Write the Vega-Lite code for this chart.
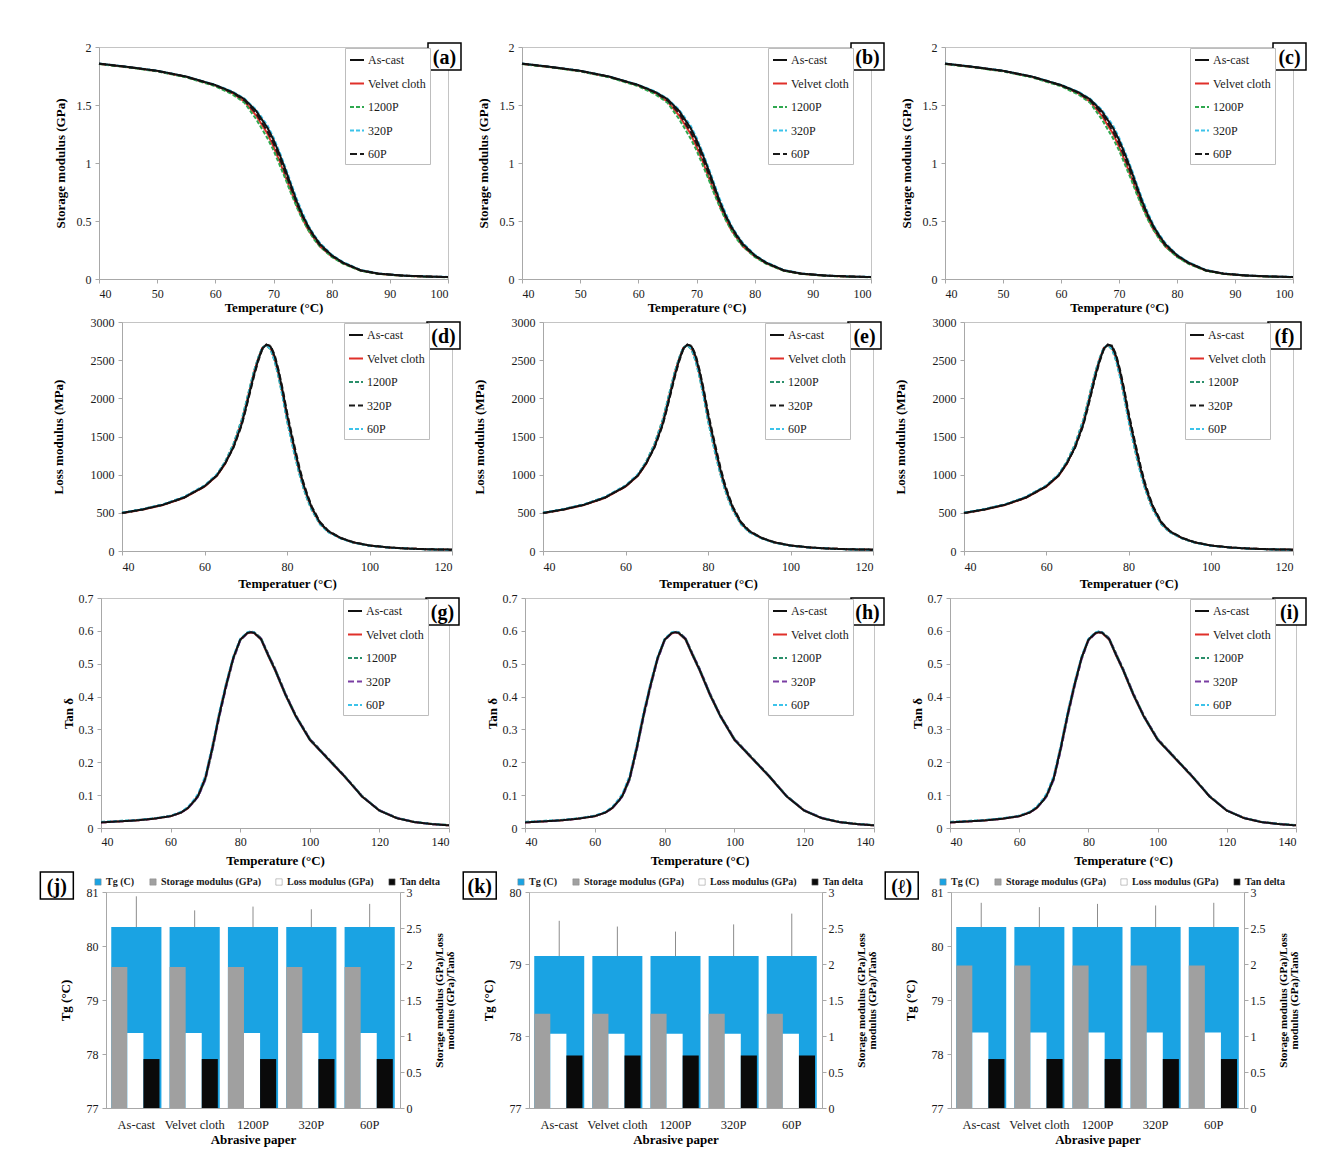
{
"$schema": "https://vega.github.io/schema/vega-lite/v6.json",
"padding": {"left": 20, "top": 39, "right": 5, "bottom": 5},
"background": "white",
"config": {
 "font": "Liberation Serif",
 "view": {"stroke": "#c4c4c4", "strokeWidth": 1},
 "axis": {"grid": false, "labelFont": "Liberation Serif", "labelFontSize": 12, "labelColor": "#1a1a1a", "titleFont": "Liberation Serif", "titleFontSize": 13, "titleFontWeight": "bold", "titleColor": "#000000", "domainColor": "#a8a8a8", "tickColor": "#a8a8a8", "tickSize": 4, "labelPadding": 4, "labelOverlap": false},
 "legend": {"fillColor": "#ffffff", "strokeColor": "#bdbdbd", "padding": 4, "labelFont": "Liberation Serif", "labelFontSize": 12, "labelColor": "#1a1a1a", "rowPadding": 9.5, "symbolStrokeWidth": 2, "symbolSize": 196, "labelOffset": 3},
 "text": {"font": "Liberation Serif"}
},
"datasets": {
 "sm": [
  {"s":"Velvet cloth","T":40,"v":1.855},{"s":"Velvet cloth","T":45,"v":1.826},{"s":"Velvet cloth","T":50,"v":1.793},{"s":"Velvet cloth","T":55,"v":1.742},{"s":"Velvet cloth","T":60,"v":1.668},{"s":"Velvet cloth","T":63,"v":1.6},{"s":"Velvet cloth","T":65,"v":1.53},{"s":"Velvet cloth","T":67,"v":1.41},{"s":"Velvet cloth","T":69,"v":1.25},{"s":"Velvet cloth","T":70,"v":1.14},{"s":"Velvet cloth","T":71,"v":1.02},{"s":"Velvet cloth","T":72,"v":0.89},{"s":"Velvet cloth","T":73,"v":0.76},{"s":"Velvet cloth","T":74,"v":0.63},{"s":"Velvet cloth","T":75,"v":0.52},{"s":"Velvet cloth","T":76,"v":0.42},{"s":"Velvet cloth","T":77,"v":0.35},{"s":"Velvet cloth","T":78,"v":0.28},{"s":"Velvet cloth","T":80,"v":0.195},{"s":"Velvet cloth","T":82,"v":0.135},{"s":"Velvet cloth","T":85,"v":0.072},{"s":"Velvet cloth","T":88,"v":0.045},{"s":"Velvet cloth","T":92,"v":0.029},{"s":"Velvet cloth","T":96,"v":0.021},{"s":"Velvet cloth","T":100,"v":0.016},
  {"s":"1200P","T":40,"v":1.853},{"s":"1200P","T":45,"v":1.824},{"s":"1200P","T":50,"v":1.79},{"s":"1200P","T":55,"v":1.738},{"s":"1200P","T":60,"v":1.662},{"s":"1200P","T":63,"v":1.59},{"s":"1200P","T":65,"v":1.52},{"s":"1200P","T":67,"v":1.38},{"s":"1200P","T":69,"v":1.21},{"s":"1200P","T":70,"v":1.11},{"s":"1200P","T":71,"v":0.99},{"s":"1200P","T":72,"v":0.87},{"s":"1200P","T":73,"v":0.74},{"s":"1200P","T":74,"v":0.62},{"s":"1200P","T":75,"v":0.51},{"s":"1200P","T":76,"v":0.42},{"s":"1200P","T":77,"v":0.34},{"s":"1200P","T":78,"v":0.28},{"s":"1200P","T":80,"v":0.19},{"s":"1200P","T":82,"v":0.13},{"s":"1200P","T":85,"v":0.07},{"s":"1200P","T":88,"v":0.044},{"s":"1200P","T":92,"v":0.028},{"s":"1200P","T":96,"v":0.02},{"s":"1200P","T":100,"v":0.015},
  {"s":"320P","T":40,"v":1.858},{"s":"320P","T":45,"v":1.829},{"s":"320P","T":50,"v":1.796},{"s":"320P","T":55,"v":1.746},{"s":"320P","T":60,"v":1.674},{"s":"320P","T":63,"v":1.615},{"s":"320P","T":65,"v":1.555},{"s":"320P","T":67,"v":1.46},{"s":"320P","T":69,"v":1.32},{"s":"320P","T":70,"v":1.22},{"s":"320P","T":71,"v":1.1},{"s":"320P","T":72,"v":0.97},{"s":"320P","T":73,"v":0.83},{"s":"320P","T":74,"v":0.69},{"s":"320P","T":75,"v":0.57},{"s":"320P","T":76,"v":0.46},{"s":"320P","T":77,"v":0.38},{"s":"320P","T":78,"v":0.31},{"s":"320P","T":80,"v":0.21},{"s":"320P","T":82,"v":0.145},{"s":"320P","T":85,"v":0.078},{"s":"320P","T":88,"v":0.048},{"s":"320P","T":92,"v":0.031},{"s":"320P","T":96,"v":0.023},{"s":"320P","T":100,"v":0.018},
  {"s":"60P","T":40,"v":1.856},{"s":"60P","T":45,"v":1.827},{"s":"60P","T":50,"v":1.794},{"s":"60P","T":55,"v":1.744},{"s":"60P","T":60,"v":1.67},{"s":"60P","T":63,"v":1.605},{"s":"60P","T":65,"v":1.54},{"s":"60P","T":67,"v":1.43},{"s":"60P","T":69,"v":1.27},{"s":"60P","T":70,"v":1.17},{"s":"60P","T":71,"v":1.05},{"s":"60P","T":72,"v":0.92},{"s":"60P","T":73,"v":0.79},{"s":"60P","T":74,"v":0.65},{"s":"60P","T":75,"v":0.54},{"s":"60P","T":76,"v":0.44},{"s":"60P","T":77,"v":0.36},{"s":"60P","T":78,"v":0.29},{"s":"60P","T":80,"v":0.2},{"s":"60P","T":82,"v":0.138},{"s":"60P","T":85,"v":0.074},{"s":"60P","T":88,"v":0.046},{"s":"60P","T":92,"v":0.03},{"s":"60P","T":96,"v":0.022},{"s":"60P","T":100,"v":0.017},
  {"s":"As-cast","T":40,"v":1.857},{"s":"As-cast","T":45,"v":1.828},{"s":"As-cast","T":50,"v":1.795},{"s":"As-cast","T":55,"v":1.745},{"s":"As-cast","T":60,"v":1.672},{"s":"As-cast","T":63,"v":1.61},{"s":"As-cast","T":65,"v":1.55},{"s":"As-cast","T":67,"v":1.45},{"s":"As-cast","T":69,"v":1.3},{"s":"As-cast","T":70,"v":1.2},{"s":"As-cast","T":71,"v":1.08},{"s":"As-cast","T":72,"v":0.95},{"s":"As-cast","T":73,"v":0.81},{"s":"As-cast","T":74,"v":0.67},{"s":"As-cast","T":75,"v":0.55},{"s":"As-cast","T":76,"v":0.45},{"s":"As-cast","T":77,"v":0.37},{"s":"As-cast","T":78,"v":0.3},{"s":"As-cast","T":80,"v":0.205},{"s":"As-cast","T":82,"v":0.14},{"s":"As-cast","T":85,"v":0.075},{"s":"As-cast","T":88,"v":0.047},{"s":"As-cast","T":92,"v":0.03},{"s":"As-cast","T":96,"v":0.022},{"s":"As-cast","T":100,"v":0.017}
 ],
 "lm": [
  {"s":"Velvet cloth","T":40,"v":495},{"s":"Velvet cloth","T":45,"v":542},{"s":"Velvet cloth","T":50,"v":603},{"s":"Velvet cloth","T":55,"v":695},{"s":"Velvet cloth","T":60,"v":842},{"s":"Velvet cloth","T":63,"v":985},{"s":"Velvet cloth","T":65,"v":1140},{"s":"Velvet cloth","T":67,"v":1370},{"s":"Velvet cloth","T":69,"v":1690},{"s":"Velvet cloth","T":70,"v":1900},{"s":"Velvet cloth","T":71,"v":2120},{"s":"Velvet cloth","T":72,"v":2340},{"s":"Velvet cloth","T":73,"v":2520},{"s":"Velvet cloth","T":74,"v":2660},{"s":"Velvet cloth","T":75,"v":2700},{"s":"Velvet cloth","T":76,"v":2660},{"s":"Velvet cloth","T":77,"v":2520},{"s":"Velvet cloth","T":78,"v":2300},{"s":"Velvet cloth","T":79,"v":2040},{"s":"Velvet cloth","T":80,"v":1750},{"s":"Velvet cloth","T":81,"v":1500},{"s":"Velvet cloth","T":82,"v":1260},{"s":"Velvet cloth","T":83,"v":1040},{"s":"Velvet cloth","T":84,"v":850},{"s":"Velvet cloth","T":85,"v":690},{"s":"Velvet cloth","T":86,"v":555},{"s":"Velvet cloth","T":88,"v":360},{"s":"Velvet cloth","T":90,"v":255},{"s":"Velvet cloth","T":93,"v":168},{"s":"Velvet cloth","T":96,"v":113},{"s":"Velvet cloth","T":100,"v":71},{"s":"Velvet cloth","T":105,"v":44},{"s":"Velvet cloth","T":110,"v":30},{"s":"Velvet cloth","T":115,"v":22},{"s":"Velvet cloth","T":120,"v":17},
  {"s":"1200P","T":40,"v":500},{"s":"1200P","T":45,"v":548},{"s":"1200P","T":50,"v":610},{"s":"1200P","T":55,"v":705},{"s":"1200P","T":60,"v":855},{"s":"1200P","T":63,"v":1000},{"s":"1200P","T":65,"v":1170},{"s":"1200P","T":67,"v":1400},{"s":"1200P","T":69,"v":1720},{"s":"1200P","T":70,"v":1930},{"s":"1200P","T":71,"v":2150},{"s":"1200P","T":72,"v":2360},{"s":"1200P","T":73,"v":2530},{"s":"1200P","T":74,"v":2665},{"s":"1200P","T":75,"v":2695},{"s":"1200P","T":76,"v":2640},{"s":"1200P","T":77,"v":2490},{"s":"1200P","T":78,"v":2270},{"s":"1200P","T":79,"v":2000},{"s":"1200P","T":80,"v":1710},{"s":"1200P","T":81,"v":1460},{"s":"1200P","T":82,"v":1220},{"s":"1200P","T":83,"v":1010},{"s":"1200P","T":84,"v":820},{"s":"1200P","T":85,"v":665},{"s":"1200P","T":86,"v":535},{"s":"1200P","T":88,"v":350},{"s":"1200P","T":90,"v":248},{"s":"1200P","T":93,"v":165},{"s":"1200P","T":96,"v":111},{"s":"1200P","T":100,"v":70},{"s":"1200P","T":105,"v":44},{"s":"1200P","T":110,"v":29},{"s":"1200P","T":115,"v":21},{"s":"1200P","T":120,"v":16},
  {"s":"320P","T":40,"v":497},{"s":"320P","T":45,"v":544},{"s":"320P","T":50,"v":605},{"s":"320P","T":55,"v":698},{"s":"320P","T":60,"v":845},{"s":"320P","T":63,"v":988},{"s":"320P","T":65,"v":1145},{"s":"320P","T":67,"v":1350},{"s":"320P","T":69,"v":1645},{"s":"320P","T":70,"v":1850},{"s":"320P","T":71,"v":2070},{"s":"320P","T":72,"v":2290},{"s":"320P","T":73,"v":2485},{"s":"320P","T":74,"v":2640},{"s":"320P","T":75,"v":2700},{"s":"320P","T":76,"v":2690},{"s":"320P","T":77,"v":2570},{"s":"320P","T":78,"v":2360},{"s":"320P","T":79,"v":2110},{"s":"320P","T":80,"v":1820},{"s":"320P","T":81,"v":1570},{"s":"320P","T":82,"v":1330},{"s":"320P","T":83,"v":1100},{"s":"320P","T":84,"v":895},{"s":"320P","T":85,"v":730},{"s":"320P","T":86,"v":585},{"s":"320P","T":88,"v":380},{"s":"320P","T":90,"v":265},{"s":"320P","T":93,"v":173},{"s":"320P","T":96,"v":117},{"s":"320P","T":100,"v":73},{"s":"320P","T":105,"v":46},{"s":"320P","T":110,"v":31},{"s":"320P","T":115,"v":22},{"s":"320P","T":120,"v":17},
  {"s":"60P","T":40,"v":502},{"s":"60P","T":45,"v":550},{"s":"60P","T":50,"v":612},{"s":"60P","T":55,"v":708},{"s":"60P","T":60,"v":858},{"s":"60P","T":63,"v":1005},{"s":"60P","T":65,"v":1165},{"s":"60P","T":67,"v":1385},{"s":"60P","T":69,"v":1700},{"s":"60P","T":70,"v":1910},{"s":"60P","T":71,"v":2130},{"s":"60P","T":72,"v":2345},{"s":"60P","T":73,"v":2520},{"s":"60P","T":74,"v":2660},{"s":"60P","T":75,"v":2700},{"s":"60P","T":76,"v":2650},{"s":"60P","T":77,"v":2500},{"s":"60P","T":78,"v":2280},{"s":"60P","T":79,"v":2010},{"s":"60P","T":80,"v":1720},{"s":"60P","T":81,"v":1470},{"s":"60P","T":82,"v":1240},{"s":"60P","T":83,"v":1020},{"s":"60P","T":84,"v":830},{"s":"60P","T":85,"v":675},{"s":"60P","T":86,"v":545},{"s":"60P","T":88,"v":355},{"s":"60P","T":90,"v":250},{"s":"60P","T":93,"v":166},{"s":"60P","T":96,"v":112},{"s":"60P","T":100,"v":70},{"s":"60P","T":105,"v":44},{"s":"60P","T":110,"v":29},{"s":"60P","T":115,"v":21},{"s":"60P","T":120,"v":16},
  {"s":"As-cast","T":40,"v":498},{"s":"As-cast","T":45,"v":545},{"s":"As-cast","T":50,"v":607},{"s":"As-cast","T":55,"v":700},{"s":"As-cast","T":60,"v":848},{"s":"As-cast","T":63,"v":990},{"s":"As-cast","T":65,"v":1150},{"s":"As-cast","T":67,"v":1360},{"s":"As-cast","T":69,"v":1660},{"s":"As-cast","T":70,"v":1870},{"s":"As-cast","T":71,"v":2090},{"s":"As-cast","T":72,"v":2310},{"s":"As-cast","T":73,"v":2500},{"s":"As-cast","T":74,"v":2650},{"s":"As-cast","T":75,"v":2705},{"s":"As-cast","T":76,"v":2680},{"s":"As-cast","T":77,"v":2550},{"s":"As-cast","T":78,"v":2340},{"s":"As-cast","T":79,"v":2080},{"s":"As-cast","T":80,"v":1790},{"s":"As-cast","T":81,"v":1540},{"s":"As-cast","T":82,"v":1300},{"s":"As-cast","T":83,"v":1070},{"s":"As-cast","T":84,"v":870},{"s":"As-cast","T":85,"v":710},{"s":"As-cast","T":86,"v":570},{"s":"As-cast","T":88,"v":370},{"s":"As-cast","T":90,"v":260},{"s":"As-cast","T":93,"v":170},{"s":"As-cast","T":96,"v":115},{"s":"As-cast","T":100,"v":72},{"s":"As-cast","T":105,"v":45},{"s":"As-cast","T":110,"v":30},{"s":"As-cast","T":115,"v":22},{"s":"As-cast","T":120,"v":17}
 ],
 "td": [
  {"s":"Velvet cloth","T":40,"v":0.017},{"s":"Velvet cloth","T":45,"v":0.02},{"s":"Velvet cloth","T":50,"v":0.023},{"s":"Velvet cloth","T":55,"v":0.028},{"s":"Velvet cloth","T":60,"v":0.036},{"s":"Velvet cloth","T":63,"v":0.047},{"s":"Velvet cloth","T":65,"v":0.06},{"s":"Velvet cloth","T":67,"v":0.085},{"s":"Velvet cloth","T":68,"v":0.101},{"s":"Velvet cloth","T":70,"v":0.154},{"s":"Velvet cloth","T":72,"v":0.246},{"s":"Velvet cloth","T":74,"v":0.348},{"s":"Velvet cloth","T":76,"v":0.439},{"s":"Velvet cloth","T":78,"v":0.518},{"s":"Velvet cloth","T":80,"v":0.573},{"s":"Velvet cloth","T":82,"v":0.592},{"s":"Velvet cloth","T":83,"v":0.595},{"s":"Velvet cloth","T":84,"v":0.593},{"s":"Velvet cloth","T":86,"v":0.573},{"s":"Velvet cloth","T":88,"v":0.525},{"s":"Velvet cloth","T":90,"v":0.48},{"s":"Velvet cloth","T":93,"v":0.404},{"s":"Velvet cloth","T":96,"v":0.339},{"s":"Velvet cloth","T":100,"v":0.268},{"s":"Velvet cloth","T":105,"v":0.212},{"s":"Velvet cloth","T":110,"v":0.156},{"s":"Velvet cloth","T":115,"v":0.096},{"s":"Velvet cloth","T":120,"v":0.053},{"s":"Velvet cloth","T":125,"v":0.03},{"s":"Velvet cloth","T":130,"v":0.018},{"s":"Velvet cloth","T":135,"v":0.012},{"s":"Velvet cloth","T":140,"v":0.008},
  {"s":"1200P","T":40,"v":0.018},{"s":"1200P","T":45,"v":0.021},{"s":"1200P","T":50,"v":0.024},{"s":"1200P","T":55,"v":0.029},{"s":"1200P","T":60,"v":0.037},{"s":"1200P","T":63,"v":0.048},{"s":"1200P","T":65,"v":0.062},{"s":"1200P","T":67,"v":0.084},{"s":"1200P","T":68,"v":0.098},{"s":"1200P","T":70,"v":0.148},{"s":"1200P","T":72,"v":0.238},{"s":"1200P","T":74,"v":0.34},{"s":"1200P","T":76,"v":0.432},{"s":"1200P","T":78,"v":0.514},{"s":"1200P","T":80,"v":0.571},{"s":"1200P","T":82,"v":0.594},{"s":"1200P","T":83,"v":0.598},{"s":"1200P","T":84,"v":0.596},{"s":"1200P","T":86,"v":0.578},{"s":"1200P","T":88,"v":0.531},{"s":"1200P","T":90,"v":0.486},{"s":"1200P","T":93,"v":0.41},{"s":"1200P","T":96,"v":0.343},{"s":"1200P","T":100,"v":0.272},{"s":"1200P","T":105,"v":0.215},{"s":"1200P","T":110,"v":0.159},{"s":"1200P","T":115,"v":0.098},{"s":"1200P","T":120,"v":0.054},{"s":"1200P","T":125,"v":0.031},{"s":"1200P","T":130,"v":0.019},{"s":"1200P","T":135,"v":0.013},{"s":"1200P","T":140,"v":0.009},
  {"s":"320P","T":40,"v":0.017},{"s":"320P","T":45,"v":0.02},{"s":"320P","T":50,"v":0.023},{"s":"320P","T":55,"v":0.028},{"s":"320P","T":60,"v":0.036},{"s":"320P","T":63,"v":0.047},{"s":"320P","T":65,"v":0.06},{"s":"320P","T":67,"v":0.083},{"s":"320P","T":68,"v":0.097},{"s":"320P","T":70,"v":0.147},{"s":"320P","T":72,"v":0.236},{"s":"320P","T":74,"v":0.338},{"s":"320P","T":76,"v":0.43},{"s":"320P","T":78,"v":0.512},{"s":"320P","T":80,"v":0.57},{"s":"320P","T":82,"v":0.592},{"s":"320P","T":83,"v":0.596},{"s":"320P","T":84,"v":0.595},{"s":"320P","T":86,"v":0.577},{"s":"320P","T":88,"v":0.53},{"s":"320P","T":90,"v":0.485},{"s":"320P","T":93,"v":0.409},{"s":"320P","T":96,"v":0.342},{"s":"320P","T":100,"v":0.271},{"s":"320P","T":105,"v":0.214},{"s":"320P","T":110,"v":0.158},{"s":"320P","T":115,"v":0.097},{"s":"320P","T":120,"v":0.054},{"s":"320P","T":125,"v":0.031},{"s":"320P","T":130,"v":0.018},{"s":"320P","T":135,"v":0.012},{"s":"320P","T":140,"v":0.008},
  {"s":"60P","T":40,"v":0.018},{"s":"60P","T":45,"v":0.021},{"s":"60P","T":50,"v":0.024},{"s":"60P","T":55,"v":0.029},{"s":"60P","T":60,"v":0.037},{"s":"60P","T":63,"v":0.049},{"s":"60P","T":65,"v":0.064},{"s":"60P","T":67,"v":0.09},{"s":"60P","T":68,"v":0.106},{"s":"60P","T":70,"v":0.16},{"s":"60P","T":72,"v":0.252},{"s":"60P","T":74,"v":0.354},{"s":"60P","T":76,"v":0.444},{"s":"60P","T":78,"v":0.522},{"s":"60P","T":80,"v":0.576},{"s":"60P","T":82,"v":0.595},{"s":"60P","T":83,"v":0.598},{"s":"60P","T":84,"v":0.595},{"s":"60P","T":86,"v":0.574},{"s":"60P","T":88,"v":0.525},{"s":"60P","T":90,"v":0.48},{"s":"60P","T":93,"v":0.404},{"s":"60P","T":96,"v":0.338},{"s":"60P","T":100,"v":0.268},{"s":"60P","T":105,"v":0.212},{"s":"60P","T":110,"v":0.156},{"s":"60P","T":115,"v":0.096},{"s":"60P","T":120,"v":0.053},{"s":"60P","T":125,"v":0.03},{"s":"60P","T":130,"v":0.018},{"s":"60P","T":135,"v":0.012},{"s":"60P","T":140,"v":0.008},
  {"s":"As-cast","T":40,"v":0.017},{"s":"As-cast","T":45,"v":0.02},{"s":"As-cast","T":50,"v":0.023},{"s":"As-cast","T":55,"v":0.028},{"s":"As-cast","T":60,"v":0.036},{"s":"As-cast","T":63,"v":0.047},{"s":"As-cast","T":65,"v":0.061},{"s":"As-cast","T":67,"v":0.085},{"s":"As-cast","T":68,"v":0.1},{"s":"As-cast","T":70,"v":0.152},{"s":"As-cast","T":72,"v":0.243},{"s":"As-cast","T":74,"v":0.345},{"s":"As-cast","T":76,"v":0.436},{"s":"As-cast","T":78,"v":0.517},{"s":"As-cast","T":80,"v":0.573},{"s":"As-cast","T":82,"v":0.593},{"s":"As-cast","T":83,"v":0.596},{"s":"As-cast","T":84,"v":0.594},{"s":"As-cast","T":86,"v":0.575},{"s":"As-cast","T":88,"v":0.527},{"s":"As-cast","T":90,"v":0.482},{"s":"As-cast","T":93,"v":0.406},{"s":"As-cast","T":96,"v":0.34},{"s":"As-cast","T":100,"v":0.269},{"s":"As-cast","T":105,"v":0.213},{"s":"As-cast","T":110,"v":0.157},{"s":"As-cast","T":115,"v":0.096},{"s":"As-cast","T":120,"v":0.053},{"s":"As-cast","T":125,"v":0.03},{"s":"As-cast","T":130,"v":0.018},{"s":"As-cast","T":135,"v":0.012},{"s":"As-cast","T":140,"v":0.008}
 ],
 "tgj": [{"sample":"As-cast","m":"Tg (C)","tg":80.35,"hi":80.92},{"sample":"Velvet cloth","m":"Tg (C)","tg":80.35,"hi":80.66},{"sample":"1200P","m":"Tg (C)","tg":80.35,"hi":80.73},{"sample":"320P","m":"Tg (C)","tg":80.35,"hi":80.68},{"sample":"60P","m":"Tg (C)","tg":80.35,"hi":80.78}],
 "tgk": [{"sample":"As-cast","m":"Tg (C)","tg":79.11,"hi":79.6},{"sample":"Velvet cloth","m":"Tg (C)","tg":79.11,"hi":79.52},{"sample":"1200P","m":"Tg (C)","tg":79.11,"hi":79.45},{"sample":"320P","m":"Tg (C)","tg":79.11,"hi":79.55},{"sample":"60P","m":"Tg (C)","tg":79.11,"hi":79.7}],
 "tgl": [{"sample":"As-cast","m":"Tg (C)","tg":80.35,"hi":80.8},{"sample":"Velvet cloth","m":"Tg (C)","tg":80.35,"hi":80.72},{"sample":"1200P","m":"Tg (C)","tg":80.35,"hi":80.78},{"sample":"320P","m":"Tg (C)","tg":80.35,"hi":80.75},{"sample":"60P","m":"Tg (C)","tg":80.35,"hi":80.8}],
 "secj": [
  {"sample":"As-cast","m":"Storage modulus (GPa)","v":1.96},{"sample":"As-cast","m":"Loss modulus (GPa)","v":1.04},{"sample":"As-cast","m":"Tan delta","v":0.68},
  {"sample":"Velvet cloth","m":"Storage modulus (GPa)","v":1.96},{"sample":"Velvet cloth","m":"Loss modulus (GPa)","v":1.04},{"sample":"Velvet cloth","m":"Tan delta","v":0.68},
  {"sample":"1200P","m":"Storage modulus (GPa)","v":1.96},{"sample":"1200P","m":"Loss modulus (GPa)","v":1.04},{"sample":"1200P","m":"Tan delta","v":0.68},
  {"sample":"320P","m":"Storage modulus (GPa)","v":1.96},{"sample":"320P","m":"Loss modulus (GPa)","v":1.04},{"sample":"320P","m":"Tan delta","v":0.68},
  {"sample":"60P","m":"Storage modulus (GPa)","v":1.96},{"sample":"60P","m":"Loss modulus (GPa)","v":1.04},{"sample":"60P","m":"Tan delta","v":0.68}],
 "seck": [
  {"sample":"As-cast","m":"Storage modulus (GPa)","v":1.31},{"sample":"As-cast","m":"Loss modulus (GPa)","v":1.03},{"sample":"As-cast","m":"Tan delta","v":0.73},
  {"sample":"Velvet cloth","m":"Storage modulus (GPa)","v":1.31},{"sample":"Velvet cloth","m":"Loss modulus (GPa)","v":1.03},{"sample":"Velvet cloth","m":"Tan delta","v":0.73},
  {"sample":"1200P","m":"Storage modulus (GPa)","v":1.31},{"sample":"1200P","m":"Loss modulus (GPa)","v":1.03},{"sample":"1200P","m":"Tan delta","v":0.73},
  {"sample":"320P","m":"Storage modulus (GPa)","v":1.31},{"sample":"320P","m":"Loss modulus (GPa)","v":1.03},{"sample":"320P","m":"Tan delta","v":0.73},
  {"sample":"60P","m":"Storage modulus (GPa)","v":1.31},{"sample":"60P","m":"Loss modulus (GPa)","v":1.03},{"sample":"60P","m":"Tan delta","v":0.73}],
 "secl": [
  {"sample":"As-cast","m":"Storage modulus (GPa)","v":1.98},{"sample":"As-cast","m":"Loss modulus (GPa)","v":1.05},{"sample":"As-cast","m":"Tan delta","v":0.68},
  {"sample":"Velvet cloth","m":"Storage modulus (GPa)","v":1.98},{"sample":"Velvet cloth","m":"Loss modulus (GPa)","v":1.05},{"sample":"Velvet cloth","m":"Tan delta","v":0.68},
  {"sample":"1200P","m":"Storage modulus (GPa)","v":1.98},{"sample":"1200P","m":"Loss modulus (GPa)","v":1.05},{"sample":"1200P","m":"Tan delta","v":0.68},
  {"sample":"320P","m":"Storage modulus (GPa)","v":1.98},{"sample":"320P","m":"Loss modulus (GPa)","v":1.05},{"sample":"320P","m":"Tan delta","v":0.68},
  {"sample":"60P","m":"Storage modulus (GPa)","v":1.98},{"sample":"60P","m":"Loss modulus (GPa)","v":1.05},{"sample":"60P","m":"Tan delta","v":0.68}]
},
"columns": 1,
"align": "none",
"spacing": 0,
"resolve": {"scale": {"color": "independent", "strokeDash": "independent", "x": "independent", "y": "independent"}, "legend": {"color": "independent", "strokeDash": "independent"}},
"concat": [
 {"hconcat": [
  {"width": 22, "height": 1, "data": {"values": []}, "mark": "point", "encoding": {}, "view": {"stroke": null}},
  {"width": 349, "height": 232, "layer": [
   {"data": {"name": "sm"}, "mark": {"type": "line", "strokeWidth": 2}, "encoding": {
    "x": {"field": "T", "type": "quantitative", "scale": {"domain": [40, 100], "nice": false}, "axis": {"title": "Temperature (°C)", "values": [40,50,60,70,80,90,100], "tickCount": 7, "labelPadding": 5, "titlePadding": 2}},
    "y": {"field": "v", "type": "quantitative", "scale": {"domain": [0, 2], "nice": false}, "axis": {"title": "Storage modulus (GPa)", "values": [0,0.5,1,1.5,2], "tickCount": 5, "format": ".1~f", "labelOverlap": false, "minExtent": 25, "maxExtent": 25, "titlePadding": 7}},
    "color": {"field": "s", "type": "nominal", "scale": {"domain": ["As-cast","Velvet cloth","1200P","320P","60P"], "range": ["#111111","#e0302a","#2fa84f","#3cc3ea","#1a1a1a"]}, "legend": {"title": null, "orient": "none", "legendX": 246, "legendY": 1}},
    "strokeDash": {"field": "s", "type": "nominal", "scale": {"domain": ["As-cast","Velvet cloth","1200P","320P","60P"], "range": [[1,0],[1,0],[4,2],[4,2],[7,3]]}, "legend": {"title": null, "orient": "none", "legendX": 246, "legendY": 1}}}},
   {"data": {"values": [{"lab": "(a)"}]}, "mark": {"type": "point", "shape": "M-1.222,-1L1.222,-1L1.222,1L-1.222,1Z", "size": 729, "filled": true, "fill": "#ffffff", "stroke": "#000000", "strokeWidth": 1.5, "opacity": 1, "xOffset": -3.5, "yOffset": 9.5}, "encoding": {"x": {"datum": 100}, "y": {"datum": 2}}},
   {"data": {"values": [{"lab": "(a)"}]}, "mark": {"type": "text", "fontSize": 20, "fontWeight": "bold", "align": "center", "baseline": "middle", "dx": -3.5, "dy": 10.5, "color": "#000000"}, "encoding": {"x": {"datum": 100}, "y": {"datum": 2}, "text": {"field": "lab"}}}
  ]},
  {"width": 349, "height": 232, "layer": [
   {"data": {"name": "sm"}, "mark": {"type": "line", "strokeWidth": 2}, "encoding": {
    "x": {"field": "T", "type": "quantitative", "scale": {"domain": [40, 100], "nice": false}, "axis": {"title": "Temperature (°C)", "values": [40,50,60,70,80,90,100], "tickCount": 7, "labelPadding": 5, "titlePadding": 2}},
    "y": {"field": "v", "type": "quantitative", "scale": {"domain": [0, 2], "nice": false}, "axis": {"title": "Storage modulus (GPa)", "values": [0,0.5,1,1.5,2], "tickCount": 5, "format": ".1~f", "labelOverlap": false, "minExtent": 25, "maxExtent": 25, "titlePadding": 7}},
    "color": {"field": "s", "type": "nominal", "scale": {"domain": ["As-cast","Velvet cloth","1200P","320P","60P"], "range": ["#111111","#e0302a","#2fa84f","#3cc3ea","#1a1a1a"]}, "legend": {"title": null, "orient": "none", "legendX": 246, "legendY": 1}},
    "strokeDash": {"field": "s", "type": "nominal", "scale": {"domain": ["As-cast","Velvet cloth","1200P","320P","60P"], "range": [[1,0],[1,0],[4,2],[4,2],[7,3]]}, "legend": {"title": null, "orient": "none", "legendX": 246, "legendY": 1}}}},
   {"data": {"values": [{"lab": "(b)"}]}, "mark": {"type": "point", "shape": "M-1.222,-1L1.222,-1L1.222,1L-1.222,1Z", "size": 729, "filled": true, "fill": "#ffffff", "stroke": "#000000", "strokeWidth": 1.5, "opacity": 1, "xOffset": -3.5, "yOffset": 9.5}, "encoding": {"x": {"datum": 100}, "y": {"datum": 2}}},
   {"data": {"values": [{"lab": "(b)"}]}, "mark": {"type": "text", "fontSize": 20, "fontWeight": "bold", "align": "center", "baseline": "middle", "dx": -3.5, "dy": 10.5, "color": "#000000"}, "encoding": {"x": {"datum": 100}, "y": {"datum": 2}, "text": {"field": "lab"}}}
  ]},
  {"width": 348, "height": 232, "layer": [
   {"data": {"name": "sm"}, "mark": {"type": "line", "strokeWidth": 2}, "encoding": {
    "x": {"field": "T", "type": "quantitative", "scale": {"domain": [40, 100], "nice": false}, "axis": {"title": "Temperature (°C)", "values": [40,50,60,70,80,90,100], "tickCount": 7, "labelPadding": 5, "titlePadding": 2}},
    "y": {"field": "v", "type": "quantitative", "scale": {"domain": [0, 2], "nice": false}, "axis": {"title": "Storage modulus (GPa)", "values": [0,0.5,1,1.5,2], "tickCount": 5, "format": ".1~f", "labelOverlap": false, "minExtent": 25, "maxExtent": 25, "titlePadding": 7}},
    "color": {"field": "s", "type": "nominal", "scale": {"domain": ["As-cast","Velvet cloth","1200P","320P","60P"], "range": ["#111111","#e0302a","#2fa84f","#3cc3ea","#1a1a1a"]}, "legend": {"title": null, "orient": "none", "legendX": 245, "legendY": 1}},
    "strokeDash": {"field": "s", "type": "nominal", "scale": {"domain": ["As-cast","Velvet cloth","1200P","320P","60P"], "range": [[1,0],[1,0],[4,2],[4,2],[7,3]]}, "legend": {"title": null, "orient": "none", "legendX": 245, "legendY": 1}}}},
   {"data": {"values": [{"lab": "(c)"}]}, "mark": {"type": "point", "shape": "M-1.222,-1L1.222,-1L1.222,1L-1.222,1Z", "size": 729, "filled": true, "fill": "#ffffff", "stroke": "#000000", "strokeWidth": 1.5, "opacity": 1, "xOffset": -3.5, "yOffset": 9.5}, "encoding": {"x": {"datum": 100}, "y": {"datum": 2}}},
   {"data": {"values": [{"lab": "(c)"}]}, "mark": {"type": "text", "fontSize": 20, "fontWeight": "bold", "align": "center", "baseline": "middle", "dx": -3.5, "dy": 10.5, "color": "#000000"}, "encoding": {"x": {"datum": 100}, "y": {"datum": 2}, "text": {"field": "lab"}}}
  ]}
 ], "spacing": 11, "resolve": {"scale": {"color": "independent", "strokeDash": "independent", "x": "independent", "y": "independent"}, "legend": {"color": "independent", "strokeDash": "independent"}}},
 {"hconcat": [
  {"width": 23, "height": 1, "data": {"values": []}, "mark": "point", "encoding": {}, "view": {"stroke": null}},
  {"width": 330, "height": 229, "layer": [
   {"data": {"name": "lm"}, "mark": {"type": "line", "strokeWidth": 2}, "encoding": {
    "x": {"field": "T", "type": "quantitative", "scale": {"domain": [40, 120], "nice": false}, "axis": {"title": "Temperatuer (°C)", "values": [40,60,80,100,120], "tickCount": 5, "labelPadding": 6, "titlePadding": 5}},
    "y": {"field": "v", "type": "quantitative", "scale": {"domain": [0, 3000], "nice": false}, "axis": {"title": "Loss modulus (MPa)", "values": [0,500,1000,1500,2000,2500,3000], "tickCount": 7, "format": "d", "labelOverlap": false, "minExtent": 36, "maxExtent": 36, "titlePadding": 21}},
    "color": {"field": "s", "type": "nominal", "scale": {"domain": ["As-cast","Velvet cloth","1200P","320P","60P"], "range": ["#111111","#e0302a","#2a8f6a","#1a1a1a","#3cc3ea"]}, "legend": {"title": null, "orient": "none", "legendX": 222, "legendY": 1}},
    "strokeDash": {"field": "s", "type": "nominal", "scale": {"domain": ["As-cast","Velvet cloth","1200P","320P","60P"], "range": [[1,0],[1,0],[4,2],[6,3],[4,2]]}, "legend": {"title": null, "orient": "none", "legendX": 222, "legendY": 1}}}},
   {"data": {"values": [{"lab": "(d)"}]}, "mark": {"type": "point", "shape": "M-1.222,-1L1.222,-1L1.222,1L-1.222,1Z", "size": 729, "filled": true, "fill": "#ffffff", "stroke": "#000000", "strokeWidth": 1.5, "opacity": 1, "xOffset": -8.5, "yOffset": 13.5}, "encoding": {"x": {"datum": 120}, "y": {"datum": 3000}}},
   {"data": {"values": [{"lab": "(d)"}]}, "mark": {"type": "text", "fontSize": 20, "fontWeight": "bold", "align": "center", "baseline": "middle", "dx": -8.5, "dy": 14.5, "color": "#000000"}, "encoding": {"x": {"datum": 120}, "y": {"datum": 3000}, "text": {"field": "lab"}}}
  ]},
  {"width": 330, "height": 229, "layer": [
   {"data": {"name": "lm"}, "mark": {"type": "line", "strokeWidth": 2}, "encoding": {
    "x": {"field": "T", "type": "quantitative", "scale": {"domain": [40, 120], "nice": false}, "axis": {"title": "Temperatuer (°C)", "values": [40,60,80,100,120], "tickCount": 5, "labelPadding": 6, "titlePadding": 5}},
    "y": {"field": "v", "type": "quantitative", "scale": {"domain": [0, 3000], "nice": false}, "axis": {"title": "Loss modulus (MPa)", "values": [0,500,1000,1500,2000,2500,3000], "tickCount": 7, "format": "d", "labelOverlap": false, "minExtent": 36, "maxExtent": 36, "titlePadding": 21}},
    "color": {"field": "s", "type": "nominal", "scale": {"domain": ["As-cast","Velvet cloth","1200P","320P","60P"], "range": ["#111111","#e0302a","#2a8f6a","#1a1a1a","#3cc3ea"]}, "legend": {"title": null, "orient": "none", "legendX": 222, "legendY": 1}},
    "strokeDash": {"field": "s", "type": "nominal", "scale": {"domain": ["As-cast","Velvet cloth","1200P","320P","60P"], "range": [[1,0],[1,0],[4,2],[6,3],[4,2]]}, "legend": {"title": null, "orient": "none", "legendX": 222, "legendY": 1}}}},
   {"data": {"values": [{"lab": "(e)"}]}, "mark": {"type": "point", "shape": "M-1.222,-1L1.222,-1L1.222,1L-1.222,1Z", "size": 729, "filled": true, "fill": "#ffffff", "stroke": "#000000", "strokeWidth": 1.5, "opacity": 1, "xOffset": -8.5, "yOffset": 13.5}, "encoding": {"x": {"datum": 120}, "y": {"datum": 3000}}},
   {"data": {"values": [{"lab": "(e)"}]}, "mark": {"type": "text", "fontSize": 20, "fontWeight": "bold", "align": "center", "baseline": "middle", "dx": -8.5, "dy": 14.5, "color": "#000000"}, "encoding": {"x": {"datum": 120}, "y": {"datum": 3000}, "text": {"field": "lab"}}}
  ]},
  {"width": 329, "height": 229, "layer": [
   {"data": {"name": "lm"}, "mark": {"type": "line", "strokeWidth": 2}, "encoding": {
    "x": {"field": "T", "type": "quantitative", "scale": {"domain": [40, 120], "nice": false}, "axis": {"title": "Temperatuer (°C)", "values": [40,60,80,100,120], "tickCount": 5, "labelPadding": 6, "titlePadding": 5}},
    "y": {"field": "v", "type": "quantitative", "scale": {"domain": [0, 3000], "nice": false}, "axis": {"title": "Loss modulus (MPa)", "values": [0,500,1000,1500,2000,2500,3000], "tickCount": 7, "format": "d", "labelOverlap": false, "minExtent": 36, "maxExtent": 36, "titlePadding": 21}},
    "color": {"field": "s", "type": "nominal", "scale": {"domain": ["As-cast","Velvet cloth","1200P","320P","60P"], "range": ["#111111","#e0302a","#2a8f6a","#1a1a1a","#3cc3ea"]}, "legend": {"title": null, "orient": "none", "legendX": 221, "legendY": 1}},
    "strokeDash": {"field": "s", "type": "nominal", "scale": {"domain": ["As-cast","Velvet cloth","1200P","320P","60P"], "range": [[1,0],[1,0],[4,2],[6,3],[4,2]]}, "legend": {"title": null, "orient": "none", "legendX": 221, "legendY": 1}}}},
   {"data": {"values": [{"lab": "(f)"}]}, "mark": {"type": "point", "shape": "M-1.222,-1L1.222,-1L1.222,1L-1.222,1Z", "size": 729, "filled": true, "fill": "#ffffff", "stroke": "#000000", "strokeWidth": 1.5, "opacity": 1, "xOffset": -8.5, "yOffset": 13.5}, "encoding": {"x": {"datum": 120}, "y": {"datum": 3000}}},
   {"data": {"values": [{"lab": "(f)"}]}, "mark": {"type": "text", "fontSize": 20, "fontWeight": "bold", "align": "center", "baseline": "middle", "dx": -8.5, "dy": 14.5, "color": "#000000"}, "encoding": {"x": {"datum": 120}, "y": {"datum": 3000}, "text": {"field": "lab"}}}
  ]}
 ], "spacing": 8, "resolve": {"scale": {"color": "independent", "strokeDash": "independent", "x": "independent", "y": "independent"}, "legend": {"color": "independent", "strokeDash": "independent"}}},
 {"hconcat": [
  {"width": 19, "height": 1, "data": {"values": []}, "mark": "point", "encoding": {}, "view": {"stroke": null}},
  {"width": 348, "height": 230, "layer": [
   {"data": {"name": "td"}, "mark": {"type": "line", "strokeWidth": 2}, "encoding": {
    "x": {"field": "T", "type": "quantitative", "scale": {"domain": [40, 140], "nice": false}, "axis": {"title": "Temperature (°C)", "values": [40,60,80,100,120,140], "tickCount": 6, "labelPadding": 4, "titlePadding": 7}},
    "y": {"field": "v", "type": "quantitative", "scale": {"domain": [0, 0.7], "nice": false}, "axis": {"title": "Tan δ", "values": [0,0.1,0.2,0.3,0.4,0.5,0.6,0.7], "tickCount": 8, "format": ".1~f", "labelOverlap": false, "minExtent": 26, "maxExtent": 26, "titlePadding": 0}},
    "color": {"field": "s", "type": "nominal", "scale": {"domain": ["As-cast","Velvet cloth","1200P","320P","60P"], "range": ["#111111","#e0302a","#2a8f6a","#7a3ea3","#3cc3ea"]}, "legend": {"title": null, "orient": "none", "legendX": 242, "legendY": 1}},
    "strokeDash": {"field": "s", "type": "nominal", "scale": {"domain": ["As-cast","Velvet cloth","1200P","320P","60P"], "range": [[1,0],[1,0],[4,2],[6,3],[4,2]]}, "legend": {"title": null, "orient": "none", "legendX": 242, "legendY": 1}}}},
   {"data": {"values": [{"lab": "(g)"}]}, "mark": {"type": "point", "shape": "M-1.222,-1L1.222,-1L1.222,1L-1.222,1Z", "size": 729, "filled": true, "fill": "#ffffff", "stroke": "#000000", "strokeWidth": 1.5, "opacity": 1, "xOffset": -6.5, "yOffset": 13.5}, "encoding": {"x": {"datum": 140}, "y": {"datum": 0.7}}},
   {"data": {"values": [{"lab": "(g)"}]}, "mark": {"type": "text", "fontSize": 20, "fontWeight": "bold", "align": "center", "baseline": "middle", "dx": -6.5, "dy": 14.5, "color": "#000000"}, "encoding": {"x": {"datum": 140}, "y": {"datum": 0.7}, "text": {"field": "lab"}}}
  ]},
  {"width": 349, "height": 230, "layer": [
   {"data": {"name": "td"}, "mark": {"type": "line", "strokeWidth": 2}, "encoding": {
    "x": {"field": "T", "type": "quantitative", "scale": {"domain": [40, 140], "nice": false}, "axis": {"title": "Temperature (°C)", "values": [40,60,80,100,120,140], "tickCount": 6, "labelPadding": 4, "titlePadding": 7}},
    "y": {"field": "v", "type": "quantitative", "scale": {"domain": [0, 0.7], "nice": false}, "axis": {"title": "Tan δ", "values": [0,0.1,0.2,0.3,0.4,0.5,0.6,0.7], "tickCount": 8, "format": ".1~f", "labelOverlap": false, "minExtent": 26, "maxExtent": 26, "titlePadding": 0}},
    "color": {"field": "s", "type": "nominal", "scale": {"domain": ["As-cast","Velvet cloth","1200P","320P","60P"], "range": ["#111111","#e0302a","#2a8f6a","#7a3ea3","#3cc3ea"]}, "legend": {"title": null, "orient": "none", "legendX": 243, "legendY": 1}},
    "strokeDash": {"field": "s", "type": "nominal", "scale": {"domain": ["As-cast","Velvet cloth","1200P","320P","60P"], "range": [[1,0],[1,0],[4,2],[6,3],[4,2]]}, "legend": {"title": null, "orient": "none", "legendX": 243, "legendY": 1}}}},
   {"data": {"values": [{"lab": "(h)"}]}, "mark": {"type": "point", "shape": "M-1.222,-1L1.222,-1L1.222,1L-1.222,1Z", "size": 729, "filled": true, "fill": "#ffffff", "stroke": "#000000", "strokeWidth": 1.5, "opacity": 1, "xOffset": -6.5, "yOffset": 13.5}, "encoding": {"x": {"datum": 140}, "y": {"datum": 0.7}}},
   {"data": {"values": [{"lab": "(h)"}]}, "mark": {"type": "text", "fontSize": 20, "fontWeight": "bold", "align": "center", "baseline": "middle", "dx": -6.5, "dy": 14.5, "color": "#000000"}, "encoding": {"x": {"datum": 140}, "y": {"datum": 0.7}, "text": {"field": "lab"}}}
  ]},
  {"width": 346, "height": 230, "layer": [
   {"data": {"name": "td"}, "mark": {"type": "line", "strokeWidth": 2}, "encoding": {
    "x": {"field": "T", "type": "quantitative", "scale": {"domain": [40, 140], "nice": false}, "axis": {"title": "Temperature (°C)", "values": [40,60,80,100,120,140], "tickCount": 6, "labelPadding": 4, "titlePadding": 7}},
    "y": {"field": "v", "type": "quantitative", "scale": {"domain": [0, 0.7], "nice": false}, "axis": {"title": "Tan δ", "values": [0,0.1,0.2,0.3,0.4,0.5,0.6,0.7], "tickCount": 8, "format": ".1~f", "labelOverlap": false, "minExtent": 26, "maxExtent": 26, "titlePadding": 0}},
    "color": {"field": "s", "type": "nominal", "scale": {"domain": ["As-cast","Velvet cloth","1200P","320P","60P"], "range": ["#111111","#e0302a","#2a8f6a","#7a3ea3","#3cc3ea"]}, "legend": {"title": null, "orient": "none", "legendX": 240, "legendY": 1}},
    "strokeDash": {"field": "s", "type": "nominal", "scale": {"domain": ["As-cast","Velvet cloth","1200P","320P","60P"], "range": [[1,0],[1,0],[4,2],[6,3],[4,2]]}, "legend": {"title": null, "orient": "none", "legendX": 240, "legendY": 1}}}},
   {"data": {"values": [{"lab": "(i)"}]}, "mark": {"type": "point", "shape": "M-1.222,-1L1.222,-1L1.222,1L-1.222,1Z", "size": 729, "filled": true, "fill": "#ffffff", "stroke": "#000000", "strokeWidth": 1.5, "opacity": 1, "xOffset": -6.5, "yOffset": 13.5}, "encoding": {"x": {"datum": 140}, "y": {"datum": 0.7}}},
   {"data": {"values": [{"lab": "(i)"}]}, "mark": {"type": "text", "fontSize": 20, "fontWeight": "bold", "align": "center", "baseline": "middle", "dx": -6.5, "dy": 14.5, "color": "#000000"}, "encoding": {"x": {"datum": 140}, "y": {"datum": 0.7}, "text": {"field": "lab"}}}
  ]}
 ], "spacing": 22, "resolve": {"scale": {"color": "independent", "strokeDash": "independent", "x": "independent", "y": "independent"}, "legend": {"color": "independent", "strokeDash": "independent"}}},
 {"hconcat": [
  {"width": 13, "height": 1, "data": {"values": []}, "mark": "point", "encoding": {}, "view": {"stroke": null}},
  {"width": 294, "height": 216, "layer": [
   {"layer": [
    {"data": {"name": "tgj"}, "mark": {"type": "bar"}, "encoding": {
     "x": {"field": "sample", "type": "nominal", "sort": ["As-cast","Velvet cloth","1200P","320P","60P"], "scale": {"paddingInner": 0.14, "paddingOuter": 0.09}, "axis": {"title": "Abrasive paper", "labelAngle": 0, "ticks": false, "labelOverlap": false, "labelPadding": 10, "titlePadding": 3, "labelFontSize": 12.5}},
     "y": {"field": "tg", "type": "quantitative", "scale": {"domain": [77, 81], "zero": false, "nice": false}, "axis": {"title": "Tg (°C)", "values": [77,78,79,80,81], "tickCount": 5, "format": "d", "labelOverlap": false, "minExtent": 22, "maxExtent": 22, "titlePadding": 12}},
     "y2": {"datum": 77},
     "color": {"field": "m", "type": "nominal", "scale": {"domain": ["Tg (C)","Storage modulus (GPa)","Loss modulus (GPa)","Tan delta"], "range": ["#1aa3e3","#a0a0a0","#ffffff","#0a0a0a"]}, "legend": {"title": null, "orient": "none", "legendX": -13, "legendY": -15, "direction": "horizontal", "symbolType": "square", "symbolSize": 40, "labelFontSize": 10, "labelFontWeight": "bold", "fillColor": "#ffffff", "strokeColor": "#ffffff", "padding": 0, "columnPadding": 13, "symbolStrokeColor": "#888888", "symbolStrokeWidth": 0.5, "labelLimit": 300, "labelOffset": 3}}}},
    {"data": {"name": "tgj"}, "mark": {"type": "rule", "color": "#8c8c8c", "strokeWidth": 1}, "encoding": {
     "x": {"field": "sample", "type": "nominal", "sort": ["As-cast","Velvet cloth","1200P","320P","60P"]},
     "y": {"field": "tg", "type": "quantitative"}, "y2": {"field": "hi"}}},
    {"data": {"values": [{"lab": "(j)"}]}, "mark": {"type": "point", "shape": "M-1.222,-1L1.222,-1L1.222,1L-1.222,1Z", "size": 729, "filled": true, "fill": "#ffffff", "stroke": "#000000", "strokeWidth": 1.5, "opacity": 1, "xOffset": -79.5, "yOffset": -6.5}, "encoding": {"x": {"datum": "As-cast"}, "y": {"datum": 81}}},
    {"data": {"values": [{"lab": "(j)"}]}, "mark": {"type": "text", "fontSize": 20, "fontWeight": "bold", "align": "center", "baseline": "middle", "dx": -79.5, "dy": -5.5, "color": "#000000"}, "encoding": {"x": {"datum": "As-cast"}, "y": {"datum": 81}, "text": {"field": "lab"}}}
   ]},
   {"data": {"name": "secj"}, "mark": {"type": "bar"}, "encoding": {
    "x": {"field": "sample", "type": "nominal", "sort": ["As-cast","Velvet cloth","1200P","320P","60P"]},
    "xOffset": {"field": "m", "type": "nominal", "sort": ["Storage modulus (GPa)","Loss modulus (GPa)","Tan delta"], "scale": {"paddingInner": 0, "paddingOuter": 0.06, "align": 0}},
    "y": {"field": "v", "type": "quantitative", "scale": {"domain": [0, 3], "nice": false}, "axis": {"orient": "right", "title": ["Storage modulus (GPa)/Loss", "modulus (GPa)/Tanδ"], "values": [0,0.5,1,1.5,2,2.5,3], "tickCount": 7, "format": ".1~f", "labelOverlap": false, "labelPadding": 2, "minExtent": 20, "maxExtent": 20, "titlePadding": 2, "titleAngle": 270, "titleBaseline": "top", "titleLineHeight": 11, "titleFontSize": 11}},
    "color": {"field": "m", "type": "nominal", "scale": {"domain": ["Tg (C)","Storage modulus (GPa)","Loss modulus (GPa)","Tan delta"], "range": ["#1aa3e3","#a0a0a0","#ffffff","#0a0a0a"]}, "legend": {"title": null, "orient": "none", "legendX": -13, "legendY": -15, "direction": "horizontal", "symbolType": "square", "symbolSize": 40, "labelFontSize": 10, "labelFontWeight": "bold", "fillColor": "#ffffff", "strokeColor": "#ffffff", "padding": 0, "columnPadding": 13, "symbolStrokeColor": "#888888", "symbolStrokeWidth": 0.5, "labelLimit": 300, "labelOffset": 3}}}}
  ], "resolve": {"scale": {"y": "independent"}}},
  {"width": 293, "height": 216, "layer": [
   {"layer": [
    {"data": {"name": "tgk"}, "mark": {"type": "bar"}, "encoding": {
     "x": {"field": "sample", "type": "nominal", "sort": ["As-cast","Velvet cloth","1200P","320P","60P"], "scale": {"paddingInner": 0.14, "paddingOuter": 0.09}, "axis": {"title": "Abrasive paper", "labelAngle": 0, "ticks": false, "labelOverlap": false, "labelPadding": 10, "titlePadding": 3, "labelFontSize": 12.5}},
     "y": {"field": "tg", "type": "quantitative", "scale": {"domain": [77, 80], "zero": false, "nice": false}, "axis": {"title": "Tg (°C)", "values": [77,78,79,80], "tickCount": 4, "format": "d", "labelOverlap": false, "minExtent": 22, "maxExtent": 22, "titlePadding": 12}},
     "y2": {"datum": 77},
     "color": {"field": "m", "type": "nominal", "scale": {"domain": ["Tg (C)","Storage modulus (GPa)","Loss modulus (GPa)","Tan delta"], "range": ["#1aa3e3","#a0a0a0","#ffffff","#0a0a0a"]}, "legend": {"title": null, "orient": "none", "legendX": -13, "legendY": -15, "direction": "horizontal", "symbolType": "square", "symbolSize": 40, "labelFontSize": 10, "labelFontWeight": "bold", "fillColor": "#ffffff", "strokeColor": "#ffffff", "padding": 0, "columnPadding": 13, "symbolStrokeColor": "#888888", "symbolStrokeWidth": 0.5, "labelLimit": 300, "labelOffset": 3}}}},
    {"data": {"name": "tgk"}, "mark": {"type": "rule", "color": "#8c8c8c", "strokeWidth": 1}, "encoding": {
     "x": {"field": "sample", "type": "nominal", "sort": ["As-cast","Velvet cloth","1200P","320P","60P"]},
     "y": {"field": "tg", "type": "quantitative"}, "y2": {"field": "hi"}}},
    {"data": {"values": [{"lab": "(k)"}]}, "mark": {"type": "point", "shape": "M-1.222,-1L1.222,-1L1.222,1L-1.222,1Z", "size": 729, "filled": true, "fill": "#ffffff", "stroke": "#000000", "strokeWidth": 1.5, "opacity": 1, "xOffset": -79.5, "yOffset": -6.5}, "encoding": {"x": {"datum": "As-cast"}, "y": {"datum": 80}}},
    {"data": {"values": [{"lab": "(k)"}]}, "mark": {"type": "text", "fontSize": 20, "fontWeight": "bold", "align": "center", "baseline": "middle", "dx": -79.5, "dy": -5.5, "color": "#000000"}, "encoding": {"x": {"datum": "As-cast"}, "y": {"datum": 80}, "text": {"field": "lab"}}}
   ]},
   {"data": {"name": "seck"}, "mark": {"type": "bar"}, "encoding": {
    "x": {"field": "sample", "type": "nominal", "sort": ["As-cast","Velvet cloth","1200P","320P","60P"]},
    "xOffset": {"field": "m", "type": "nominal", "sort": ["Storage modulus (GPa)","Loss modulus (GPa)","Tan delta"], "scale": {"paddingInner": 0, "paddingOuter": 0.06, "align": 0}},
    "y": {"field": "v", "type": "quantitative", "scale": {"domain": [0, 3], "nice": false}, "axis": {"orient": "right", "title": ["Storage modulus (GPa)/Loss", "modulus (GPa)/Tanδ"], "values": [0,0.5,1,1.5,2,2.5,3], "tickCount": 7, "format": ".1~f", "labelOverlap": false, "labelPadding": 2, "minExtent": 20, "maxExtent": 20, "titlePadding": 2, "titleAngle": 270, "titleBaseline": "top", "titleLineHeight": 11, "titleFontSize": 11}},
    "color": {"field": "m", "type": "nominal", "scale": {"domain": ["Tg (C)","Storage modulus (GPa)","Loss modulus (GPa)","Tan delta"], "range": ["#1aa3e3","#a0a0a0","#ffffff","#0a0a0a"]}, "legend": {"title": null, "orient": "none", "legendX": -13, "legendY": -15, "direction": "horizontal", "symbolType": "square", "symbolSize": 40, "labelFontSize": 10, "labelFontWeight": "bold", "fillColor": "#ffffff", "strokeColor": "#ffffff", "padding": 0, "columnPadding": 13, "symbolStrokeColor": "#888888", "symbolStrokeWidth": 0.5, "labelLimit": 300, "labelOffset": 3}}}}
  ], "resolve": {"scale": {"y": "independent"}}},
  {"width": 293, "height": 216, "layer": [
   {"layer": [
    {"data": {"name": "tgl"}, "mark": {"type": "bar"}, "encoding": {
     "x": {"field": "sample", "type": "nominal", "sort": ["As-cast","Velvet cloth","1200P","320P","60P"], "scale": {"paddingInner": 0.14, "paddingOuter": 0.09}, "axis": {"title": "Abrasive paper", "labelAngle": 0, "ticks": false, "labelOverlap": false, "labelPadding": 10, "titlePadding": 3, "labelFontSize": 12.5}},
     "y": {"field": "tg", "type": "quantitative", "scale": {"domain": [77, 81], "zero": false, "nice": false}, "axis": {"title": "Tg (°C)", "values": [77,78,79,80,81], "tickCount": 5, "format": "d", "labelOverlap": false, "minExtent": 22, "maxExtent": 22, "titlePadding": 12}},
     "y2": {"datum": 77},
     "color": {"field": "m", "type": "nominal", "scale": {"domain": ["Tg (C)","Storage modulus (GPa)","Loss modulus (GPa)","Tan delta"], "range": ["#1aa3e3","#a0a0a0","#ffffff","#0a0a0a"]}, "legend": {"title": null, "orient": "none", "legendX": -13, "legendY": -15, "direction": "horizontal", "symbolType": "square", "symbolSize": 40, "labelFontSize": 10, "labelFontWeight": "bold", "fillColor": "#ffffff", "strokeColor": "#ffffff", "padding": 0, "columnPadding": 13, "symbolStrokeColor": "#888888", "symbolStrokeWidth": 0.5, "labelLimit": 300, "labelOffset": 3}}}},
    {"data": {"name": "tgl"}, "mark": {"type": "rule", "color": "#8c8c8c", "strokeWidth": 1}, "encoding": {
     "x": {"field": "sample", "type": "nominal", "sort": ["As-cast","Velvet cloth","1200P","320P","60P"]},
     "y": {"field": "tg", "type": "quantitative"}, "y2": {"field": "hi"}}},
    {"data": {"values": [{"lab": "(ℓ)"}]}, "mark": {"type": "point", "shape": "M-1.222,-1L1.222,-1L1.222,1L-1.222,1Z", "size": 729, "filled": true, "fill": "#ffffff", "stroke": "#000000", "strokeWidth": 1.5, "opacity": 1, "xOffset": -79.5, "yOffset": -6.5}, "encoding": {"x": {"datum": "As-cast"}, "y": {"datum": 81}}},
    {"data": {"values": [{"lab": "(ℓ)"}]}, "mark": {"type": "text", "fontSize": 20, "fontWeight": "bold", "align": "center", "baseline": "middle", "dx": -79.5, "dy": -5.5, "color": "#000000"}, "encoding": {"x": {"datum": "As-cast"}, "y": {"datum": 81}, "text": {"field": "lab"}}}
   ]},
   {"data": {"name": "secl"}, "mark": {"type": "bar"}, "encoding": {
    "x": {"field": "sample", "type": "nominal", "sort": ["As-cast","Velvet cloth","1200P","320P","60P"]},
    "xOffset": {"field": "m", "type": "nominal", "sort": ["Storage modulus (GPa)","Loss modulus (GPa)","Tan delta"], "scale": {"paddingInner": 0, "paddingOuter": 0.06, "align": 0}},
    "y": {"field": "v", "type": "quantitative", "scale": {"domain": [0, 3], "nice": false}, "axis": {"orient": "right", "title": ["Storage modulus (GPa)/Loss", "modulus (GPa)/Tanδ"], "values": [0,0.5,1,1.5,2,2.5,3], "tickCount": 7, "format": ".1~f", "labelOverlap": false, "labelPadding": 2, "minExtent": 20, "maxExtent": 20, "titlePadding": 2, "titleAngle": 270, "titleBaseline": "top", "titleLineHeight": 11, "titleFontSize": 11}},
    "color": {"field": "m", "type": "nominal", "scale": {"domain": ["Tg (C)","Storage modulus (GPa)","Loss modulus (GPa)","Tan delta"], "range": ["#1aa3e3","#a0a0a0","#ffffff","#0a0a0a"]}, "legend": {"title": null, "orient": "none", "legendX": -13, "legendY": -15, "direction": "horizontal", "symbolType": "square", "symbolSize": 40, "labelFontSize": 10, "labelFontWeight": "bold", "fillColor": "#ffffff", "strokeColor": "#ffffff", "padding": 0, "columnPadding": 13, "symbolStrokeColor": "#888888", "symbolStrokeWidth": 0.5, "labelLimit": 300, "labelOffset": 3}}}}
  ], "resolve": {"scale": {"y": "independent"}}}
 ], "spacing": 3, "resolve": {"scale": {"color": "independent", "x": "independent", "y": "independent"}, "legend": {"color": "independent"}}}
]
}
